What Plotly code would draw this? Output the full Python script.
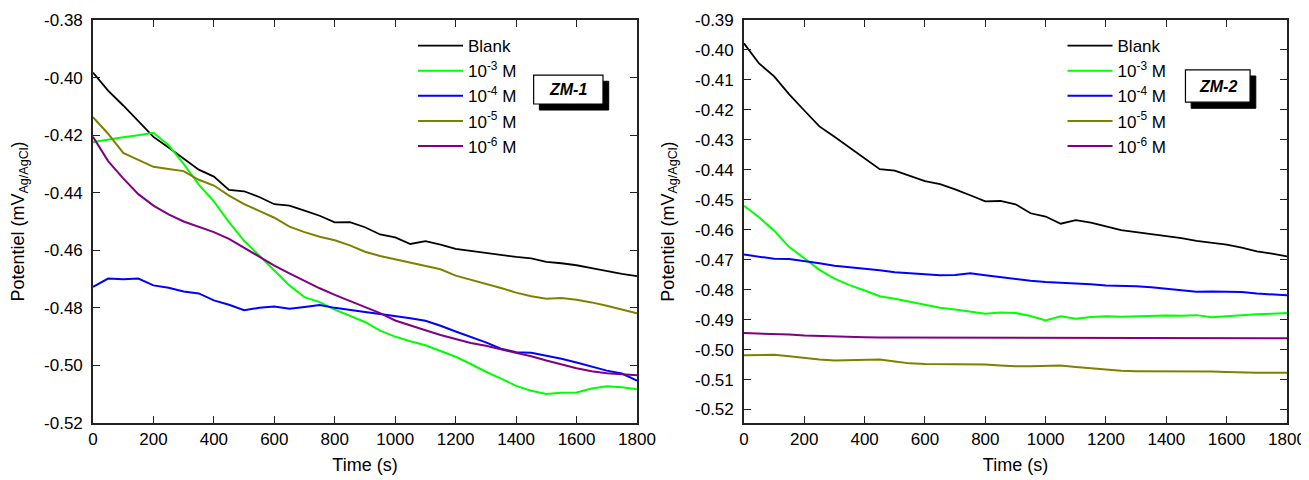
import plotly.graph_objects as go

time_s = list(range(0, 1801, 50))

# ZM-1 (left panel)
zm1_blank = [-0.3983, -0.4045, -0.4097, -0.4150, -0.4206, -0.4243, -0.4280, -0.4320, -0.4344, -0.4390,
             -0.4395, -0.4415, -0.4440, -0.4445, -0.4462, -0.4480, -0.4503, -0.4502, -0.4520, -0.4545,
             -0.4555, -0.4578, -0.4568, -0.4580, -0.4595, -0.4602, -0.4610, -0.4615, -0.4623, -0.4628,
             -0.4640, -0.4645, -0.4652, -0.4662, -0.4673, -0.4682, -0.4690]
zm1_1e3 = [-0.4224, -0.4215, -0.4207, -0.4200, -0.4192, -0.4235, -0.4300, -0.4372, -0.4430, -0.4502,
           -0.4567, -0.4618, -0.4670, -0.4722, -0.4763, -0.4780, -0.4806, -0.4828, -0.4849, -0.4879,
           -0.4900, -0.4916, -0.4930, -0.4950, -0.4970, -0.4995, -0.5022, -0.5046, -0.5071, -0.5088,
           -0.5099, -0.5095, -0.5094, -0.5080, -0.5072, -0.5076, -0.5083]
zm1_1e4 = [-0.4727, -0.4698, -0.4701, -0.4698, -0.4722, -0.4730, -0.4743, -0.4750, -0.4774, -0.4789,
           -0.4808, -0.4800, -0.4795, -0.4803, -0.4797, -0.4790, -0.4800, -0.4808, -0.4814, -0.4821,
           -0.4828, -0.4836, -0.4845, -0.4862, -0.4882, -0.4900, -0.4920, -0.4942, -0.4954, -0.4956,
           -0.4966, -0.4977, -0.4990, -0.5005, -0.5018, -0.5028, -0.5053]
zm1_1e5 = [-0.4138, -0.4195, -0.4262, -0.4285, -0.4310, -0.4318, -0.4325, -0.4355, -0.4375, -0.4410,
           -0.4440, -0.4463, -0.4487, -0.4518, -0.4537, -0.4553, -0.4565, -0.4583, -0.4605, -0.4620,
           -0.4632, -0.4644, -0.4654, -0.4666, -0.4688, -0.4702, -0.4718, -0.4731, -0.4747, -0.4760,
           -0.4768, -0.4766, -0.4772, -0.4781, -0.4793, -0.4806, -0.4819]
zm1_1e6 = [-0.4206, -0.4290, -0.4350, -0.4405, -0.4445, -0.4475, -0.4500, -0.4518, -0.4537, -0.4560,
           -0.4592, -0.4624, -0.4653, -0.4680, -0.4707, -0.4732, -0.4755, -0.4776, -0.4796, -0.4818,
           -0.4844, -0.4862, -0.4878, -0.4894, -0.4909, -0.4922, -0.4932, -0.4944, -0.4956, -0.4968,
           -0.4983, -0.4997, -0.5010, -0.5020, -0.5027, -0.5031, -0.5034]

# ZM-2 (right panel)
zm2_blank = [-0.3978, -0.4045, -0.4088, -0.4148, -0.4202, -0.4255, -0.4290, -0.4325, -0.4360, -0.4398,
             -0.4403, -0.4420, -0.4438, -0.4448, -0.4465, -0.4485, -0.4505, -0.4504, -0.4515, -0.4545,
             -0.4556, -0.4580, -0.4568, -0.4576, -0.4588, -0.4601, -0.4608, -0.4614, -0.4621, -0.4628,
             -0.4637, -0.4644, -0.4650, -0.4660, -0.4672, -0.4680, -0.4689]
zm2_1e3 = [-0.4520, -0.4558, -0.4603, -0.4658, -0.4695, -0.4734, -0.4763, -0.4785, -0.4803, -0.4822,
           -0.4830, -0.4840, -0.4850, -0.4860, -0.4866, -0.4873, -0.4880, -0.4876, -0.4878, -0.4888,
           -0.4903, -0.4889, -0.4897, -0.4891, -0.4889, -0.4890, -0.4888, -0.4888, -0.4886, -0.4887,
           -0.4885, -0.4892, -0.4888, -0.4884, -0.4882, -0.4880, -0.4878]
zm2_1e4 = [-0.4683, -0.4690, -0.4697, -0.4698, -0.4704, -0.4712, -0.4720, -0.4725, -0.4728, -0.4735,
           -0.4742, -0.4745, -0.4750, -0.4752, -0.4751, -0.4745, -0.4752, -0.4758, -0.4766, -0.4770,
           -0.4774, -0.4776, -0.4778, -0.4782, -0.4786, -0.4787, -0.4789, -0.4792, -0.4797, -0.4802,
           -0.4807, -0.4806, -0.4806, -0.4808, -0.4813, -0.4816, -0.4819]
zm2_1e5 = [-0.5019, -0.5018, -0.5017, -0.5022, -0.5028, -0.5033, -0.5036, -0.5035, -0.5034, -0.5033,
           -0.5040, -0.5046, -0.5048, -0.5048, -0.5048, -0.5049, -0.5050, -0.5053, -0.5056, -0.5056,
           -0.5054, -0.5053, -0.5058, -0.5063, -0.5068, -0.5071, -0.5072, -0.5072, -0.5072, -0.5071,
           -0.5071, -0.5073, -0.5075, -0.5077, -0.5077, -0.5077, -0.5077]
zm2_1e6 = [-0.4945, -0.4946, -0.4948, -0.4950, -0.4953, -0.4955, -0.4957, -0.4958, -0.4959, -0.4960,
           -0.4960, -0.4960, -0.4960, -0.4960, -0.4960, -0.4960, -0.4960, -0.4960, -0.4960, -0.4960,
           -0.4960, -0.4960, -0.4960, -0.4960, -0.4960, -0.4960, -0.4960, -0.4961, -0.4961, -0.4961,
           -0.4961, -0.4961, -0.4961, -0.4962, -0.4962, -0.4962, -0.4962]

series_names = ["Blank", "10<sup>-3</sup> M", "10<sup>-4</sup> M", "10<sup>-5</sup> M", "10<sup>-6</sup> M"]
colors = ["#000000", "#00FF00", "#0000FF", "#808000", "#800080"]
widths = [1.8, 2.0, 2.0, 2.0, 2.0]

x_ticks = list(range(0, 1801, 200))
y1_ticks = [-0.52, -0.50, -0.48, -0.46, -0.44, -0.42, -0.40, -0.38]
y2_ticks = [-0.52, -0.51, -0.50, -0.49, -0.48, -0.47, -0.46, -0.45, -0.44, -0.43, -0.42, -0.41, -0.40, -0.39]
y1_labels = ["-0.52", "-0.50", "-0.48", "-0.46", "-0.44", "-0.42", "-0.40", "-0.38"]
y2_labels = ["-0.52", "-0.51", "-0.50", "-0.49", "-0.48", "-0.47", "-0.46", "-0.45", "-0.44", "-0.43",
             "-0.42", "-0.41", "-0.40", "-0.39"]

FONT = "Liberation Sans"

fig = go.Figure()
left = [zm1_blank, zm1_1e3, zm1_1e4, zm1_1e5, zm1_1e6]
right = [zm2_blank, zm2_1e3, zm2_1e4, zm2_1e5, zm2_1e6]
for name, c, w, ys in zip(series_names, colors, widths, left):
    fig.add_trace(go.Scatter(x=time_s, y=ys, mode="lines", name=name,
                             line=dict(color=c, width=w), xaxis="x", yaxis="y", legend="legend"))
for name, c, w, ys in zip(series_names, colors, widths, right):
    fig.add_trace(go.Scatter(x=time_s, y=ys, mode="lines", name=name,
                             line=dict(color=c, width=w), xaxis="x2", yaxis="y2", legend="legend2"))

axis_common = dict(showline=True, linecolor="#222222", linewidth=1.6, mirror="ticks",
                   ticks="inside", ticklen=7, tickwidth=1.3, tickcolor="#222222",
                   showgrid=False, zeroline=False, automargin=False,
                   tickfont=dict(family=FONT, size=17, color="black"))

x_title = dict(text="Time (s)", font=dict(family=FONT, size=18, color="black"), standoff=10)
y_title = dict(text="Potentiel (mV<sub>Ag/AgCl</sub>)", font=dict(family=FONT, size=18, color="black"), standoff=16)

# the page body has an 8px margin, so the figure is sized/offset to land the plot areas
# at the same pixel positions as the reference
fig.update_layout(
    width=1301, height=472,
    margin=dict(l=85, r=22, t=12, b=57, autoexpand=False),
    paper_bgcolor="white", plot_bgcolor="white",
    font=dict(family=FONT, color="black"),
    xaxis=dict(domain=[0, 0.4556], range=[0, 1800], tickmode="array", tickvals=x_ticks,
               ticktext=[str(v) for v in x_ticks], title=x_title, anchor="y", **axis_common),
    yaxis=dict(range=[-0.52, -0.38], tickmode="array", tickvals=y1_ticks, ticktext=y1_labels,
               ticklabelstandoff=5, title=y_title, anchor="x", **axis_common),
    xaxis2=dict(domain=[0.5452, 1.0], range=[0, 1800], tickmode="array", tickvals=x_ticks,
                ticktext=[str(v) for v in x_ticks], title=x_title, anchor="y2", **axis_common),
    yaxis2=dict(range=[-0.5245, -0.39], tickmode="array", tickvals=y2_ticks, ticktext=y2_labels,
                ticklabelstandoff=5, title=y_title, anchor="x2", **axis_common),
    legend=dict(x=0.268, y=0.98, xanchor="left", yanchor="top", bgcolor="rgba(0,0,0,0)",
                font=dict(family=FONT, size=17, color="black"), itemwidth=45, tracegroupgap=0),
    legend2=dict(x=0.812, y=0.98, xanchor="left", yanchor="top", bgcolor="rgba(0,0,0,0)",
                 font=dict(family=FONT, size=17, color="black"), itemwidth=45, tracegroupgap=0),
    showlegend=True,
)

# label boxes with drop shadow (paper coordinates)
boxes = [(0.4556 * 0.81, 0.4556 * 0.9375, 0.7916, 0.863, "ZM-1"),
         (0.5452 + 0.4548 * 0.813, 0.5452 + 0.4548 * 0.932, 0.796, 0.876, "ZM-2")]
for x0, x1, y0, y1, label in boxes:
    dx, dy = 0.0048, 0.015
    fig.add_shape(type="rect", xref="paper", yref="paper",
                  x0=x0 + dx, x1=x1 + dx, y0=y0 - dy, y1=y1 - dy,
                  fillcolor="black", line=dict(color="black", width=1), layer="above")
    fig.add_shape(type="rect", xref="paper", yref="paper",
                  x0=x0, x1=x1, y0=y0, y1=y1,
                  fillcolor="white", line=dict(color="black", width=1.2), layer="above")
    fig.add_annotation(xref="paper", yref="paper", x=(x0 + x1) / 2, y=(y0 + y1) / 2,
                       xanchor="center", yanchor="middle",
                       text=f"<b><i>{label}</i></b>", showarrow=False,
                       font=dict(family=FONT, size=16, color="black"))

fig.write_html("out.html")
